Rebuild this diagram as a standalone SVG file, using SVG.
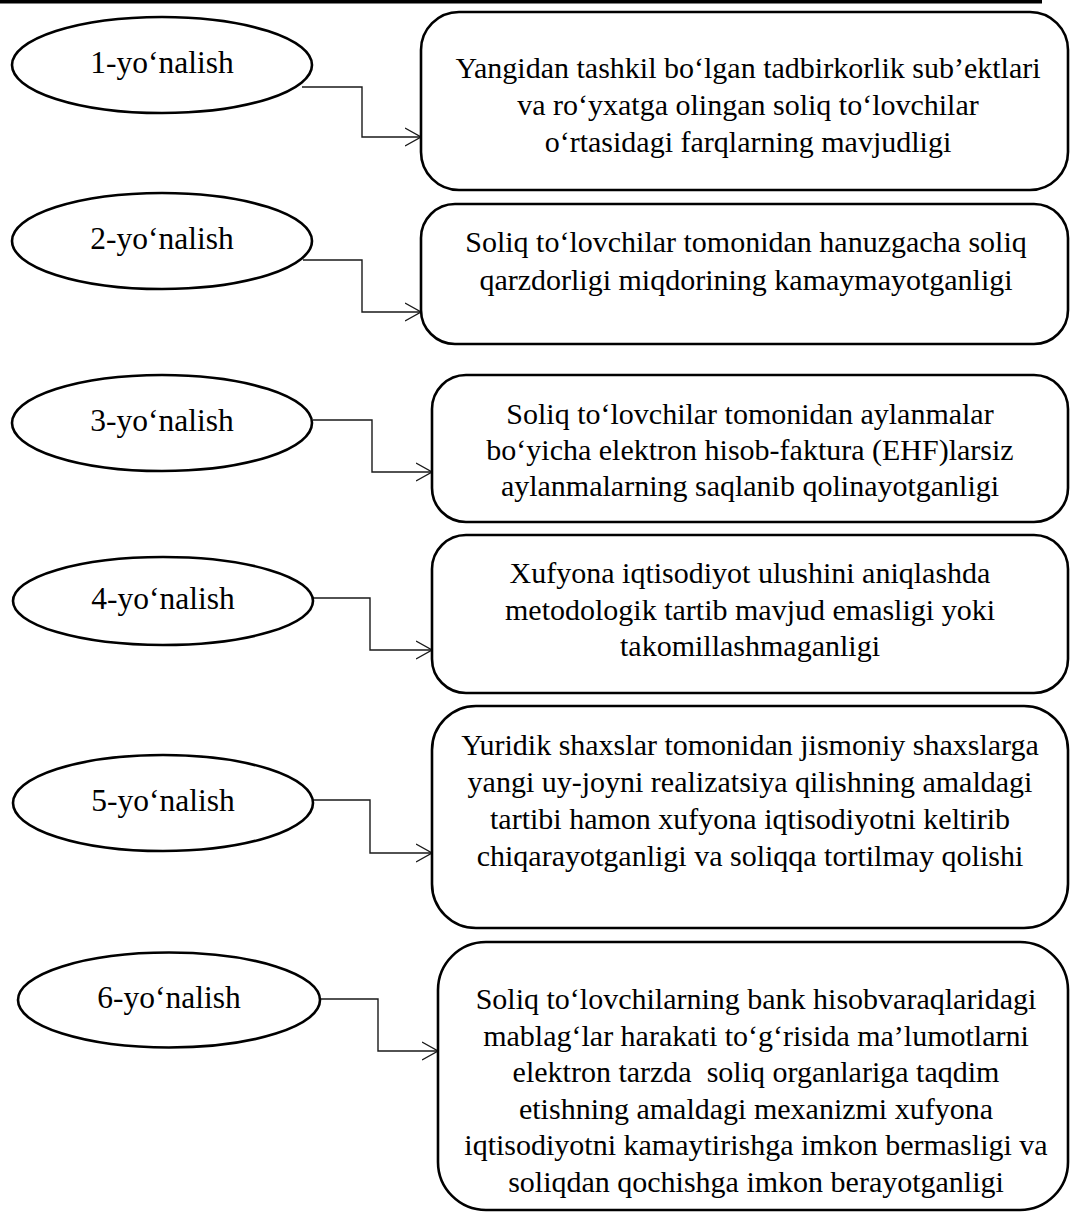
<svg xmlns="http://www.w3.org/2000/svg" width="1071" height="1214" viewBox="0 0 1071 1214">
<defs>
<style>
.bg{fill:#ffffff}
.node ellipse,.node rect{fill:#ffffff;stroke:#000000;stroke-width:2.6}
.t{font-family:"Liberation Serif","Times New Roman",serif;font-size:30px;fill:#000000;text-anchor:middle}
.lbl{font-size:31.5px}
.conn{fill:none;stroke:#1a1a1a;stroke-width:1.4;marker-end:url(#arr)}
</style>
<marker id="arr" markerWidth="20" markerHeight="22" refX="16" refY="10" orient="auto" markerUnits="userSpaceOnUse">
<path d="M0,1 L16,10 L0,19" fill="none" stroke="#1a1a1a" stroke-width="1.4"/>
</marker>
</defs>
<rect class="bg" x="0" y="0" width="1071" height="1214"/>
<rect x="0" y="0" width="1042" height="3.5" fill="#000000"/>

<g id="connectors">
<path class="conn" d="M302,87 H362 V137 H421"/>
<path class="conn" d="M303,260 H362 V312 H421"/>
<path class="conn" d="M313,420 H372 V472 H432"/>
<path class="conn" d="M313,598 H370 V650 H432"/>
<path class="conn" d="M313,800 H370 V853 H432"/>
<path class="conn" d="M320,999 H378 V1051 H438"/>
</g>

<g id="e1" class="node"><ellipse cx="162" cy="65" rx="150" ry="48"/><text class="t lbl" x="162" y="73">1-yo‘nalish</text></g>
<g id="e2" class="node"><ellipse cx="162" cy="241" rx="150" ry="48"/><text class="t lbl" x="162" y="249">2-yo‘nalish</text></g>
<g id="e3" class="node"><ellipse cx="162" cy="423" rx="150" ry="48"/><text class="t lbl" x="162" y="431">3-yo‘nalish</text></g>
<g id="e4" class="node"><ellipse cx="163" cy="601" rx="150" ry="44"/><text class="t lbl" x="163" y="609">4-yo‘nalish</text></g>
<g id="e5" class="node"><ellipse cx="163" cy="803" rx="150" ry="48"/><text class="t lbl" x="163" y="811">5-yo‘nalish</text></g>
<g id="e6" class="node"><ellipse cx="169" cy="1000" rx="151" ry="47.5"/><text class="t lbl" x="169" y="1008">6-yo‘nalish</text></g>

<g id="b1" class="node"><rect x="421" y="12" width="647" height="178" rx="38" ry="38"/>
<text class="t" x="748" y="78">Yangidan tashkil bo‘lgan tadbirkorlik sub’ektlari</text>
<text class="t" x="748" y="115">va ro‘yxatga olingan soliq to‘lovchilar</text>
<text class="t" x="748" y="152">o‘rtasidagi farqlarning mavjudligi</text></g>

<g id="b2" class="node"><rect x="421" y="204" width="647" height="140" rx="34" ry="34"/>
<text class="t" x="746" y="252">Soliq to‘lovchilar tomonidan hanuzgacha soliq</text>
<text class="t" x="746" y="290">qarzdorligi miqdorining kamaymayotganligi</text></g>

<g id="b3" class="node"><rect x="432" y="375" width="636" height="147" rx="34" ry="34"/>
<text class="t" x="750" y="424">Soliq to‘lovchilar tomonidan aylanmalar</text>
<text class="t" x="750" y="460">bo‘yicha elektron hisob-faktura (EHF)larsiz</text>
<text class="t" x="750" y="496">aylanmalarning saqlanib qolinayotganligi</text></g>

<g id="b4" class="node"><rect x="432" y="535" width="636" height="158" rx="34" ry="34"/>
<text class="t" x="750" y="583">Xufyona iqtisodiyot ulushini aniqlashda</text>
<text class="t" x="750" y="620">metodologik tartib mavjud emasligi yoki</text>
<text class="t" x="750" y="656">takomillashmaganligi</text></g>

<g id="b5" class="node"><rect x="432" y="706" width="636" height="222" rx="44" ry="44"/>
<text class="t" x="750" y="755">Yuridik shaxslar tomonidan jismoniy shaxslarga</text>
<text class="t" x="750" y="792">yangi uy-joyni realizatsiya qilishning amaldagi</text>
<text class="t" x="750" y="829">tartibi hamon xufyona iqtisodiyotni keltirib</text>
<text class="t" x="750" y="866">chiqarayotganligi va soliqqa tortilmay qolishi</text></g>

<g id="b6" class="node"><rect x="438" y="942" width="630" height="268" rx="48" ry="48"/>
<text class="t" x="756" y="1009">Soliq to‘lovchilarning bank hisobvaraqlaridagi</text>
<text class="t" x="756" y="1045.5">mablag‘lar harakati to‘g‘risida ma’lumotlarni</text>
<text class="t" x="756" y="1082" xml:space="preserve">elektron tarzda  soliq organlariga taqdim</text>
<text class="t" x="756" y="1118.5">etishning amaldagi mexanizmi xufyona</text>
<text class="t" x="756" y="1155">iqtisodiyotni kamaytirishga imkon bermasligi va</text>
<text class="t" x="756" y="1191.5">soliqdan qochishga imkon berayotganligi</text></g>
</svg>
